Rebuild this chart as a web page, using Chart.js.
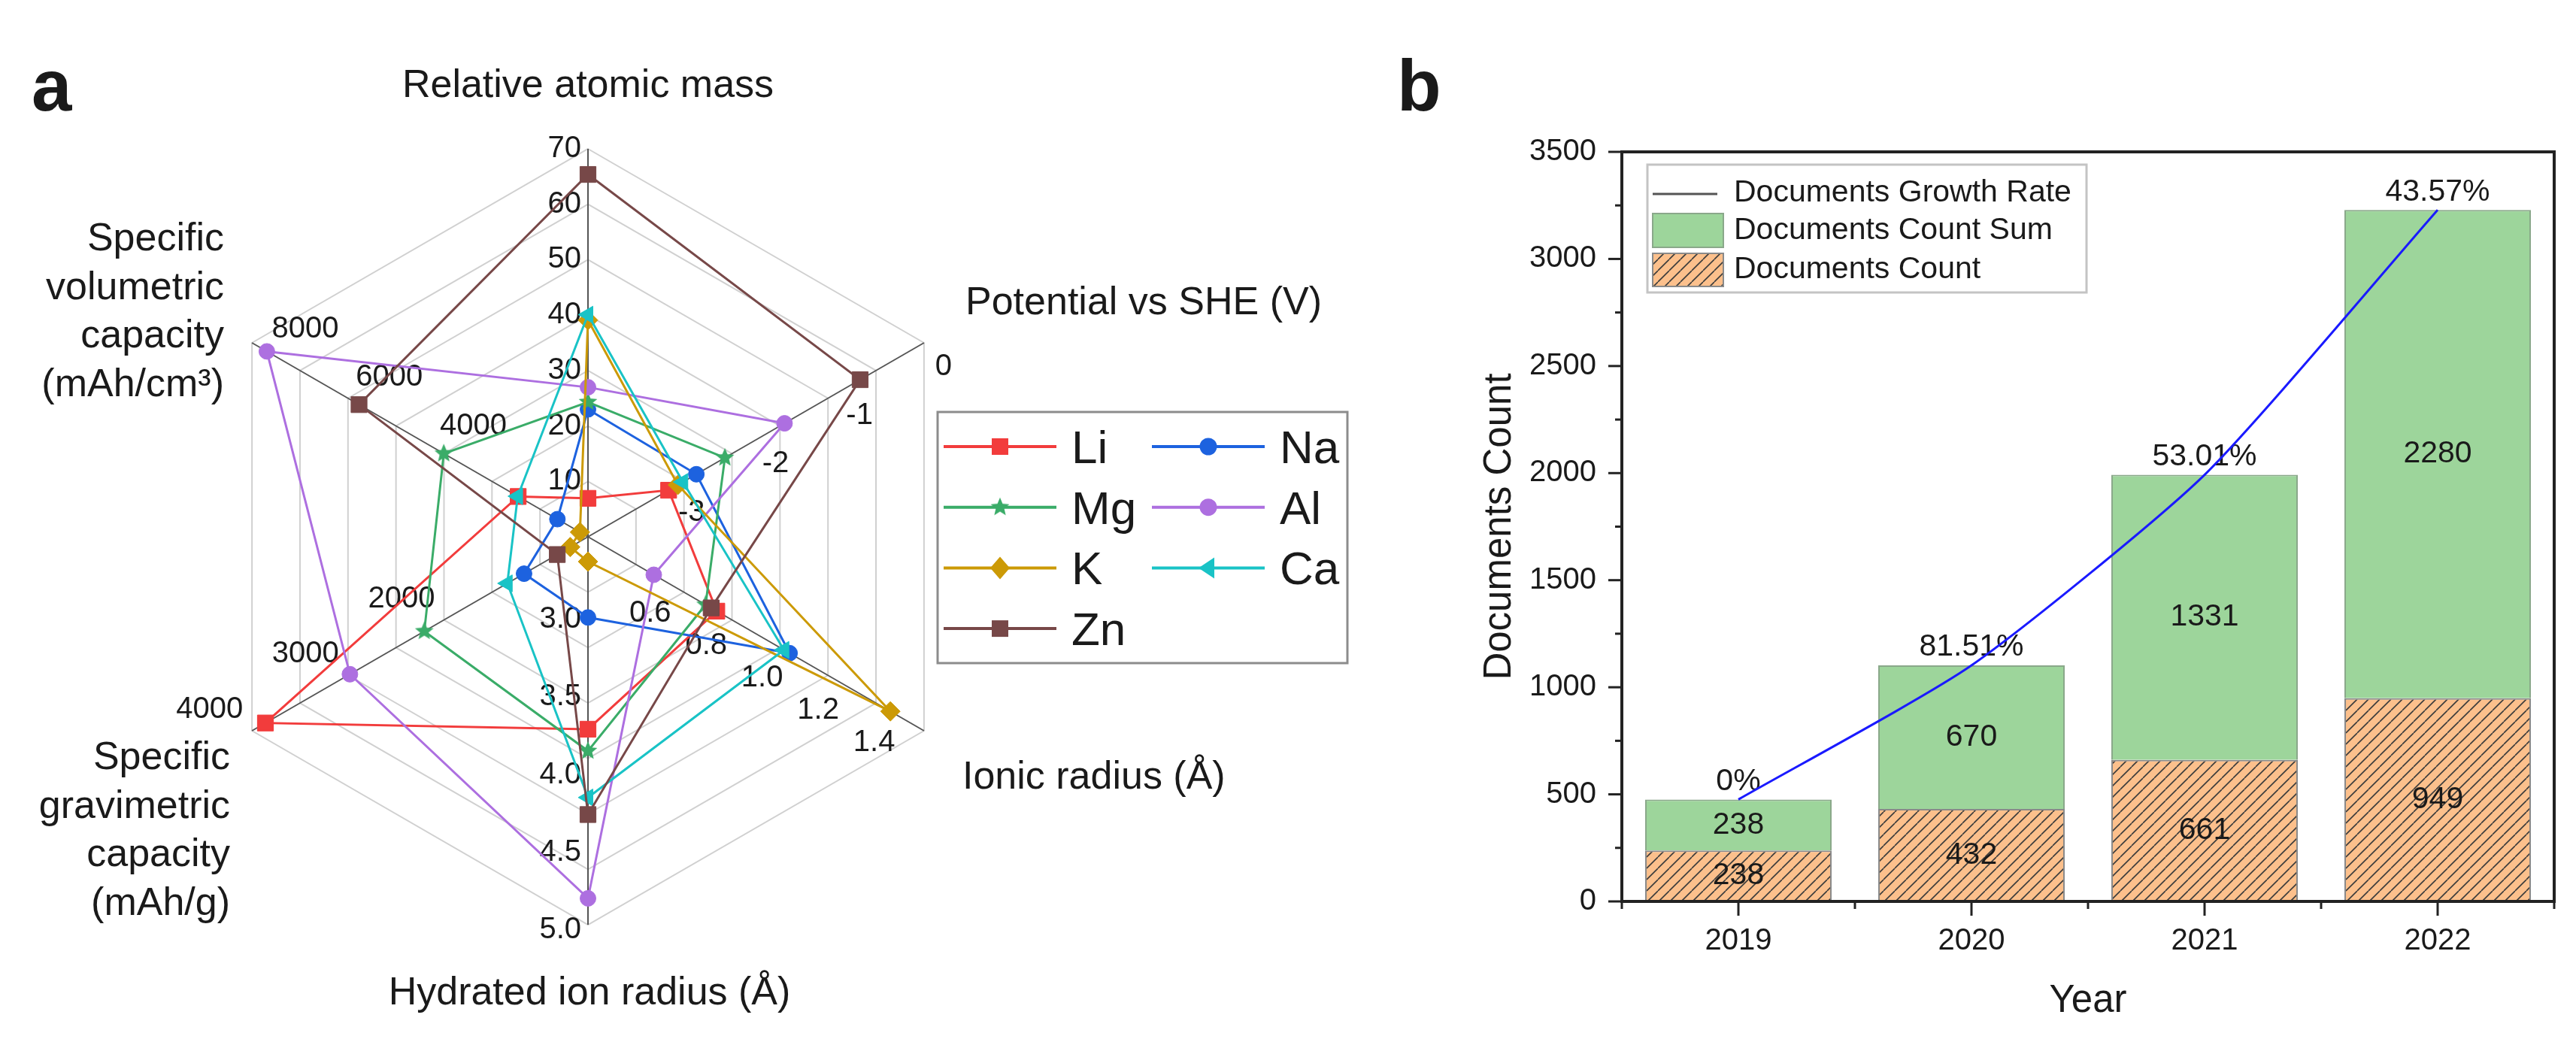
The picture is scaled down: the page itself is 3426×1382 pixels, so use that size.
<!DOCTYPE html>
<html>
<head>
<meta charset="utf-8">
<script src="https://cdn.jsdelivr.net/npm/chart.js@4.4.1/dist/chart.umd.min.js"></script>
<style>
  html, body { margin: 0; padding: 0; background: #fff; }
  #wrap { position: relative; width: 3426px; height: 1382px; overflow: hidden; }
  #panelA { position: absolute; left: 0; top: 0; width: 1800px; height: 1382px; }
  #panelB { position: absolute; left: 1800px; top: 0; width: 1626px; height: 1382px; }
</style>
</head>
<body>
<div id="wrap">
  <div id="panelA"><canvas id="radar"></canvas></div>
  <div id="panelB"><canvas id="bars"></canvas></div>
</div>
<script>
const FONT = "'Liberation Sans', Arial, Helvetica, sans-serif";
const INK = '#1a1a1a';
Chart.defaults.font.family = FONT;
Chart.defaults.color = INK;

// ---------- panel a data ----------
const axisTitles = ['Relative atomic mass', 'Potential vs SHE (V)', 'Ionic radius (Å)', 'Hydrated ion radius (Å)',
  ['Specific', 'gravimetric', 'capacity', '(mAh/g)'], ['Specific', 'volumetric', 'capacity', '(mAh/cm³)']];
const axisMin = [0, -4, 0.3, 2.5, 500, 400];
const axisMax = [70, 0, 1.5, 5.0, 4000, 8400];
const massTicks = [10, 20, 30, 40, 50, 60, 70];
const potentialTicks = [0, -1, -2, -3];
const ionicTicks = [0.6, 0.8, 1.0, 1.2, 1.4];
const hydratedTicks = [3.0, 3.5, 4.0, 4.5, 5.0];
const gravTicks = [2000, 3000, 4000];
const volTicks = [4000, 6000, 8000];

const elements = ['Li', 'Na', 'Mg', 'Al', 'K', 'Ca', 'Zn'];
const liValues = [6.94, -3.04, 0.76, 3.74, 3860, 2062];
const naValues = [22.99, -2.71, 1.02, 3.02, 1166, 1128];
const mgValues = [24.31, -2.37, 0.72, 3.88, 2205, 3833];
const alValues = [26.98, -1.66, 0.535, 4.83, 2980, 8046];
const kValues = [39.10, -2.93, 1.38, 2.66, 685, 591];
const caValues = [40.08, -2.87, 1.00, 4.18, 1340, 2073];
const znValues = [65.38, -0.76, 0.74, 4.29, 820, 5851];
const elementValues = [liValues, naValues, mgValues, alValues, kValues, caValues, znValues];
const elementColors = ['#f23c3c', '#1d62df', '#3aac68', '#ad6fe0', '#cc9a06', '#19c3c6', '#774848'];
const elementMarkers = ['rect', 'circle', 'star', 'circle', 'rectRot', 'triLeft', 'rect'];

// ---------- panel b data ----------
const years = ['2019', '2020', '2021', '2022'];
const docCount = [238, 432, 661, 949];
const docCountSum = [238, 670, 1331, 2280];
const growthCurve = [476, 1102, 1992, 3229];
const growthRate = [0, 81.51, 53.01, 43.57];
const yMax = 3500;
const yStep = 500;

const RINGS = 7;
function toRing(v, axis) {
  return RINGS * (v - axisMin[axis]) / (axisMax[axis] - axisMin[axis]);
}

function makeStar(color, r) {
  const c = document.createElement('canvas');
  c.width = c.height = Math.ceil(r * 2 + 2);
  const g = c.getContext('2d');
  g.fillStyle = color;
  g.beginPath();
  for (let i = 0; i < 10; i++) {
    const rr = i % 2 ? r * 0.45 : r;
    const a = -Math.PI / 2 + i * Math.PI / 5;
    g.lineTo(c.width / 2 + rr * Math.cos(a), c.height / 2 + rr * Math.sin(a));
  }
  g.closePath();
  g.fill();
  return c;
}
const starImg = makeStar(elementColors[2], 13);

function chartPointStyle(m) {
  if (m === 'star') return starImg;
  if (m === 'triLeft') return 'triangle';
  return m;
}
function chartPointRadius(m) {
  return { rect: 15, circle: 10.5, star: 13, rectRot: 13, triLeft: 13 }[m];
}

function drawMarker(ctx, m, x, y, color) {
  ctx.save();
  ctx.fillStyle = color;
  if (m === 'star') {
    ctx.drawImage(starImg, x - starImg.width / 2, y - starImg.height / 2);
    ctx.restore();
    return;
  }
  ctx.beginPath();
  if (m === 'rect') ctx.rect(x - 11, y - 11, 22, 22);
  else if (m === 'circle') ctx.arc(x, y, 11.5, 0, Math.PI * 2);
  else if (m === 'rectRot') { ctx.moveTo(x - 13, y); ctx.lineTo(x, y - 15); ctx.lineTo(x + 13, y); ctx.lineTo(x, y + 15); }
  else if (m === 'triLeft') { ctx.moveTo(x - 13, y); ctx.lineTo(x + 8, y - 14); ctx.lineTo(x + 8, y + 14); }
  ctx.closePath();
  ctx.fill();
  ctx.restore();
}

const radarTickSpecs = [
  { axis: 0, values: massTicks, fmt: v => String(v), align: 'right', dx: -9, dy: 0 },
  { axis: 1, values: potentialTicks, fmt: v => String(v), align: 'center', dx: 26, dy: 32 },
  { axis: 2, values: ionicTicks, fmt: v => v.toFixed(1), align: 'center', dx: -29, dy: 37 },
  { axis: 3, values: hydratedTicks, fmt: v => v.toFixed(1), align: 'right', dx: -9, dy: 7 },
  { axis: 4, values: gravTicks, fmt: v => String(v), align: 'right', dx: -12, dy: -28 },
  { axis: 5, values: volTicks, fmt: v => String(v), align: 'left', dx: 4, dy: -31 }
];

const radarDecor = {
  id: 'radarDecor',
  beforeDatasetsDraw(chart) {
    const r = chart.scales.r;
    const ctx = chart.ctx;
    ctx.save();
    ctx.font = `40px ${FONT}`;
    ctx.fillStyle = INK;
    ctx.textBaseline = 'middle';
    radarTickSpecs.forEach(spec => {
      spec.values.forEach(v => {
        const p = r.getPointPositionForValue(spec.axis, toRing(v, spec.axis));
        ctx.textAlign = spec.align;
        ctx.fillText(spec.fmt(v), p.x + spec.dx, p.y + spec.dy);
      });
    });
    ctx.restore();
  },
  afterDraw(chart) {
    const ctx = chart.ctx;
    ctx.save();
    ctx.fillStyle = INK;
    ctx.textBaseline = 'alphabetic';

    // panel letter
    ctx.font = `bold 96px ${FONT}`;
    ctx.textAlign = 'left';
    ctx.fillText('a', 42, 147);

    // axis titles
    ctx.font = `52px ${FONT}`;
    ctx.textAlign = 'center';
    ctx.fillText(axisTitles[0], 782, 129);
    ctx.fillText(axisTitles[3], 784, 1336);
    ctx.textAlign = 'left';
    ctx.fillText(axisTitles[1], 1284, 418);
    ctx.fillText(axisTitles[2], 1280, 1049);
    ctx.textAlign = 'right';
    axisTitles[5].forEach((t, i) => ctx.fillText(t, 298, 333 + i * 64.5));
    axisTitles[4].forEach((t, i) => ctx.fillText(t, 306, 1023 + i * 64.7));

    // legend
    ctx.strokeStyle = '#8c8c8c';
    ctx.lineWidth = 3;
    ctx.strokeRect(1247, 548, 545, 334);
    ctx.font = `62px ${FONT}`;
    ctx.textAlign = 'left';
    elements.forEach((name, i) => {
      const col = i % 2;
      const row = Math.floor(i / 2);
      const x0 = col ? 1532 : 1255;
      const y = 594 + row * 80.7;
      ctx.strokeStyle = elementColors[i];
      ctx.lineWidth = 4;
      ctx.beginPath();
      ctx.moveTo(x0, y);
      ctx.lineTo(x0 + 150, y);
      ctx.stroke();
      drawMarker(ctx, elementMarkers[i], x0 + 75, y, elementColors[i]);
      ctx.fillStyle = INK;
      ctx.fillText(name, x0 + 170, y + 22);
    });
    ctx.restore();
  }
};

new Chart(document.getElementById('radar'), {
  type: 'radar',
  data: {
    labels: axisTitles,
    datasets: elements.map((name, i) => ({
      label: name,
      data: elementValues[i].map((v, a) => toRing(v, a)),
      borderColor: elementColors[i],
      backgroundColor: elementColors[i],
      pointBackgroundColor: elementColors[i],
      pointBorderColor: elementColors[i],
      pointBorderWidth: 1,
      pointStyle: chartPointStyle(elementMarkers[i]),
      pointRotation: elementMarkers[i] === 'triLeft' ? -90 : 0,
      pointRadius: chartPointRadius(elementMarkers[i]),
      pointHoverRadius: chartPointRadius(elementMarkers[i]),
      borderWidth: 3,
      fill: false,
      tension: 0,
      order: elements.length - 1 - i
    }))
  },
  options: {
    responsive: true,
    maintainAspectRatio: false,
    animation: false,
    layout: { padding: { left: 266, right: 502, top: 198, bottom: 152 } },
    plugins: { legend: { display: false }, tooltip: { enabled: false } },
    scales: {
      r: {
        min: 0,
        max: RINGS,
        ticks: { display: false, stepSize: 1 },
        grid: { color: '#d0d0d0', lineWidth: 2, circular: false },
        angleLines: { color: '#555', lineWidth: 2 },
        pointLabels: { display: false }
      }
    }
  },
  plugins: [radarDecor]
});

// ---------- panel b ----------
function makeHatch(bg, line, size) {
  const c = document.createElement('canvas');
  c.width = c.height = size;
  const g = c.getContext('2d');
  g.fillStyle = bg;
  g.fillRect(0, 0, size, size);
  g.strokeStyle = line;
  g.lineWidth = 1.6;
  g.beginPath();
  [-size, 0, size].forEach(x0 => {
    g.moveTo(x0, size);
    g.lineTo(x0 + size, 0);
  });
  g.stroke();
  return c;
}
const hatchCanvas = makeHatch('#fcc08c', '#3c3c3c', 15);
const barsCtx = document.getElementById('bars').getContext('2d');
const hatchFill = barsCtx.createPattern(hatchCanvas, 'repeat');
const GREEN = '#9dd59b';

function line(ctx, x1, y1, x2, y2) {
  ctx.beginPath();
  ctx.moveTo(x1, y1);
  ctx.lineTo(x2, y2);
  ctx.stroke();
}

const barDecor = {
  id: 'barDecor',
  afterDatasetDraw(chart, args) {
    if (args.index !== 0) return;
    const ctx = chart.ctx;
    const countMeta = chart.getDatasetMeta(0);
    const sumMeta = chart.getDatasetMeta(1);
    ctx.save();
    ctx.font = `41px ${FONT}`;
    ctx.fillStyle = INK;
    ctx.textAlign = 'center';
    ctx.textBaseline = 'middle';
    years.forEach((y, i) => {
      const c = countMeta.data[i];
      const s = sumMeta.data[i];
      ctx.fillText(String(docCount[i]), c.x, (c.y + c.base) / 2);
      ctx.fillText(String(docCountSum[i]), s.x, (s.y + s.base) / 2);
      ctx.fillText(growthRate[i] + '%', s.x, s.y - 24);
    });
    ctx.restore();
  },
  afterDraw(chart) {
    const ctx = chart.ctx;
    const a = chart.chartArea;
    const xs = chart.scales.x;
    const ys = chart.scales.y;
    ctx.save();
    ctx.strokeStyle = '#222';
    ctx.lineWidth = 4;
    ctx.strokeRect(a.left, a.top, a.right - a.left, a.bottom - a.top);

    ctx.lineWidth = 3;
    for (let v = 0; v <= yMax; v += yStep / 2) {
      const py = ys.getPixelForValue(v);
      const len = v % yStep ? 9 : 18;
      line(ctx, a.left - len, py, a.left, py);
    }
    years.forEach((y, i) => {
      const px = xs.getPixelForValue(i);
      line(ctx, px, a.bottom, px, a.bottom + 19);
    });
    for (let i = 0; i <= years.length; i++) {
      const px = xs.getPixelForValue(i - 0.5);
      line(ctx, px, a.bottom, px, a.bottom + 10);
    }

    // axis titles
    ctx.fillStyle = INK;
    ctx.font = `51px ${FONT}`;
    ctx.textAlign = 'center';
    ctx.textBaseline = 'alphabetic';
    ctx.fillText('Year', (a.left + a.right) / 2, 1346);
    ctx.save();
    ctx.translate(209, (a.top + a.bottom) / 2);
    ctx.rotate(-Math.PI / 2);
    ctx.fillText('Documents Count', 0, 0);
    ctx.restore();

    // panel letter
    ctx.font = `bold 96px ${FONT}`;
    ctx.textAlign = 'left';
    ctx.fillText('b', 58, 147);

    // legend
    ctx.strokeStyle = '#c4c4c4';
    ctx.lineWidth = 3;
    ctx.strokeRect(391, 219, 584, 170);
    ctx.strokeStyle = '#555';
    ctx.lineWidth = 3;
    line(ctx, 398, 258, 484, 258);
    ctx.fillStyle = GREEN;
    ctx.fillRect(398, 284, 94, 45);
    ctx.strokeStyle = '#8aa88a';
    ctx.lineWidth = 2;
    ctx.strokeRect(398, 284, 94, 45);
    ctx.fillStyle = hatchFill;
    ctx.fillRect(398, 337, 94, 44);
    ctx.strokeStyle = '#8a8a8a';
    ctx.strokeRect(398, 337, 94, 44);
    ctx.fillStyle = INK;
    ctx.font = `41px ${FONT}`;
    ctx.textBaseline = 'middle';
    ctx.fillText('Documents Growth Rate', 506, 257);
    ctx.fillText('Documents Count Sum', 506, 307);
    ctx.fillText('Documents Count', 506, 359);
    ctx.restore();
  }
};

new Chart(barsCtx, {
  type: 'bar',
  data: {
    labels: years,
    datasets: [
      {
        label: 'Documents Count',
        data: docCount,
        backgroundColor: hatchFill,
        borderColor: '#8a8a8a',
        borderWidth: 2,
        barPercentage: 0.8,
        categoryPercentage: 1,
        stack: 'docs'
      },
      {
        label: 'Documents Count Sum',
        data: docCountSum,
        backgroundColor: GREEN,
        borderColor: '#8aa88a',
        borderWidth: 2,
        barPercentage: 0.8,
        categoryPercentage: 1,
        stack: 'docs'
      },
      {
        type: 'line',
        label: 'Documents Growth Rate',
        data: growthCurve,
        borderColor: '#1a1aff',
        borderWidth: 3,
        pointRadius: 0,
        tension: 0.2,
        fill: false,
        stack: 'rate',
        order: -1
      }
    ]
  },
  options: {
    responsive: true,
    maintainAspectRatio: false,
    animation: false,
    layout: { padding: { left: 0, right: 29, top: 202, bottom: 0 } },
    plugins: { legend: { display: false }, tooltip: { enabled: false } },
    scales: {
      x: {
        stacked: true,
        grid: { display: false, drawTicks: false },
        border: { display: false },
        ticks: { font: { size: 40 }, color: INK, padding: 29 },
        afterFit: s => { s.height = 183; }
      },
      y: {
        stacked: true,
        min: 0,
        max: yMax,
        grid: { display: false, drawTicks: false },
        border: { display: false },
        ticks: { stepSize: yStep, font: { size: 40 }, color: INK, padding: 34, callback: v => String(v) },
        afterFit: s => { s.width = 357; }
      }
    }
  },
  plugins: [barDecor]
});
</script>
</body>
</html>
